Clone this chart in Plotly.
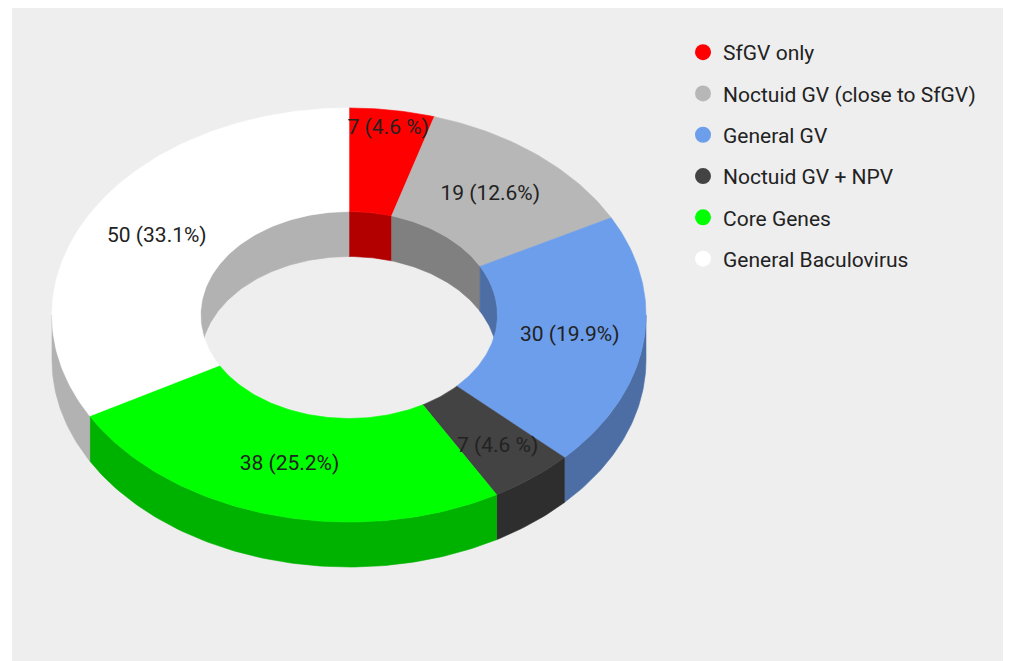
import numpy as np
import plotly.graph_objects as go

# ---- data ----
CATEGORIES = ["SfGV only", "Noctuid GV (close to SfGV)", "General GV",
              "Noctuid GV + NPV", "Core Genes", "General Baculovirus"]
VALUES = [7, 19, 30, 7, 38, 50]
LABELS = ["7 (4.6 %)", "19 (12.6%)", "30 (19.9%)", "7 (4.6 %)", "38 (25.2%)", "50 (33.1%)"]

# ---- style / geometry ----
COLORS = ["#ff0000", "#b7b7b7", "#6d9eeb", "#434343", "#00ff00", "#ffffff"]
SHADE = 0.7
CX, CY = 349, 315
RX, RY = 297, 207
HOLE = 0.5
DEPTH = 45
LABEL_R = [0.91, 0.75, 0.75, 0.81, 0.75, 0.75]
FONT = "Roboto"


def darken(hexc, f):
    h = hexc.lstrip("#")
    r, g, b = (int(h[i:i + 2], 16) for i in (0, 2, 4))
    return "#%02x%02x%02x" % (int(r * f), int(g * f), int(b * f))


def arc(t1, t2, rx, ry, dy=0.0):
    n = max(3, int(abs(t2 - t1) * 180 / np.pi) + 3)
    t = np.linspace(t1, t2, n)
    return CX + rx * np.sin(t), CY - ry * np.cos(t) + dy


def intersect(a1, a2, lo, hi):
    s, e = max(a1, lo), min(a2, hi)
    return (s, e) if e > s else None


total = float(sum(VALUES))
bounds = np.concatenate([[0], np.cumsum(VALUES)]) / total * 2 * np.pi
IRX, IRY = RX * HOLE, RY * HOLE

fig = go.Figure()


def poly(xs, ys, color):
    fig.add_trace(go.Scatter(x=xs, y=ys, fill="toself", mode="lines",
                             fillcolor=color, line=dict(color=color, width=0.6),
                             hoverinfo="skip", showlegend=False))


# inner walls (back half visible through the hole)
for i in range(len(VALUES)):
    a1, a2 = bounds[i], bounds[i + 1]
    for lo, hi in [(-np.pi / 2, np.pi / 2), (1.5 * np.pi, 2.5 * np.pi)]:
        seg = intersect(a1, a2, lo, hi)
        if seg:
            x1, y1 = arc(seg[0], seg[1], IRX, IRY)
            x2, y2 = arc(seg[1], seg[0], IRX, IRY, DEPTH)
            poly(np.concatenate([x1, x2, x1[:1]]), np.concatenate([y1, y2, y1[:1]]),
                 darken(COLORS[i], SHADE))

# outer walls (front half)
for i in range(len(VALUES)):
    a1, a2 = bounds[i], bounds[i + 1]
    seg = intersect(a1, a2, np.pi / 2, 1.5 * np.pi)
    if seg:
        x1, y1 = arc(seg[0], seg[1], RX, RY)
        x2, y2 = arc(seg[1], seg[0], RX, RY, DEPTH)
        poly(np.concatenate([x1, x2, x1[:1]]), np.concatenate([y1, y2, y1[:1]]),
             darken(COLORS[i], SHADE))

# top faces
for i in range(len(VALUES)):
    a1, a2 = bounds[i], bounds[i + 1]
    x1, y1 = arc(a1, a2, RX, RY)
    x2, y2 = arc(a2, a1, IRX, IRY)
    poly(np.concatenate([x1, x2, x1[:1]]), np.concatenate([y1, y2, y1[:1]]), COLORS[i])

# slice labels
mid = (bounds[:-1] + bounds[1:]) / 2
lr = np.array(LABEL_R)
fig.add_trace(go.Scatter(
    x=CX + RX * lr * np.sin(mid), y=CY - RY * lr * np.cos(mid),
    mode="text", text=LABELS, textposition="middle center",
    textfont=dict(family=FONT, size=21, color="#222222"),
    hoverinfo="skip", showlegend=False))

# legend entries
for i, cat in enumerate(CATEGORIES):
    fig.add_trace(go.Scatter(x=[None], y=[None], mode="markers", name=cat,
                             legendgroup=str(i),
                             marker=dict(color=COLORS[i], size=18, line=dict(width=0))))

fig.update_layout(
    width=1003, height=653,
    margin=dict(l=4, r=0, t=0, b=0, autoexpand=False),
    paper_bgcolor="#ffffff", plot_bgcolor="#eeeeee",
    xaxis=dict(range=[12, 1011], visible=False, fixedrange=True),
    yaxis=dict(range=[661, 8], visible=False, fixedrange=True),
    showlegend=True,
    legend=dict(x=(683 - 12) / 999, xanchor="left", y=1 - (32 - 8) / 653, yanchor="top",
                font=dict(family=FONT, size=21, color="#222222"),
                bgcolor="rgba(0,0,0,0)", tracegroupgap=11,
                itemclick=False, itemdoubleclick=False),
)

fig.write_html("out.html")
